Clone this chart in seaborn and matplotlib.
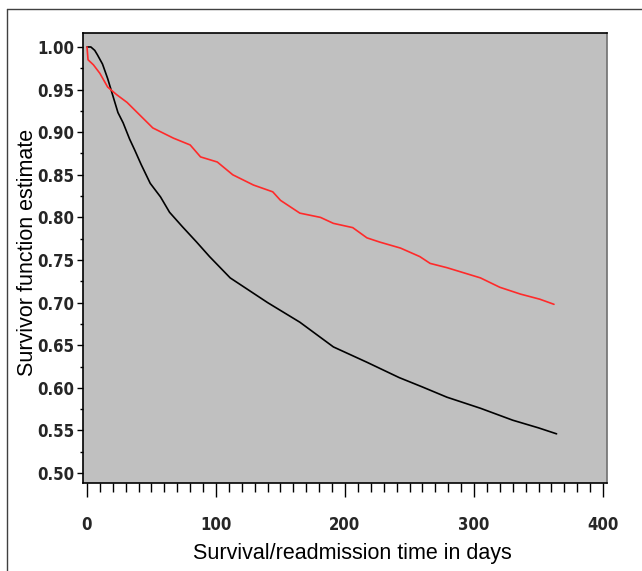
import numpy as np
import pandas as pd
import seaborn as sns
import matplotlib
matplotlib.use('Agg')
import matplotlib.pyplot as plt
from matplotlib.lines import Line2D
from matplotlib.ticker import MultipleLocator

# values
black_days = [0, 3, 6, 8, 12, 16, 20, 24, 28, 33, 37, 42, 49, 57, 64, 74, 85, 95,
              111, 125, 140, 165, 191, 217, 242, 260, 279, 305, 330, 350, 364]
black_surv = [1.000, 1.000, 0.996, 0.991, 0.980, 0.963, 0.943, 0.923, 0.911, 0.892,
              0.879, 0.862, 0.840, 0.824, 0.806, 0.789, 0.771, 0.754, 0.729, 0.715,
              0.700, 0.677, 0.648, 0.630, 0.612, 0.601, 0.589, 0.576, 0.562, 0.553, 0.546]

red_days = [0, 0.8, 5, 10, 16, 23, 31, 41, 51, 67, 80, 88, 101, 113, 129, 144, 150,
            165, 181, 191, 206, 217, 227, 243, 258, 266, 279, 305, 320, 336, 351, 362]
red_surv = [1.000, 0.985, 0.979, 0.969, 0.953, 0.944, 0.935, 0.920, 0.905, 0.893,
            0.885, 0.871, 0.865, 0.850, 0.838, 0.830, 0.820, 0.805, 0.800, 0.793,
            0.788, 0.776, 0.771, 0.764, 0.754, 0.746, 0.741, 0.729, 0.718, 0.710,
            0.704, 0.698]

x_ticks = [0, 100, 200, 300, 400]
y_ticks = [0.50, 0.55, 0.60, 0.65, 0.70, 0.75, 0.80, 0.85, 0.90, 0.95, 1.00]

df = pd.concat([
    pd.DataFrame({'days': black_days, 'surv': black_surv, 'group': 'black'}),
    pd.DataFrame({'days': red_days, 'surv': red_surv, 'group': 'red'}),
])

sns.set_theme(style='white')
plt.rcParams['font.family'] = ['Liberation Sans', 'DejaVu Sans']

fig = plt.figure(figsize=(6.42, 5.71), dpi=100)
ax = fig.add_axes([83/642, 1-483/571, (607-83)/642, (483-33)/571])

sns.lineplot(data=df, x='days', y='surv', hue='group',
             palette={'black': '#000000', 'red': '#ff2a2a'},
             estimator=None, sort=False, lw=1.2, legend=False, ax=ax)

ax.set_facecolor('#c0c0c0')
ax.set_xlim(-3.1, 403.1)
ax.set_ylim(0.4883, 1.0164)

ax.set_xticks(x_ticks)
ax.set_yticks(y_ticks)
ax.xaxis.set_minor_locator(MultipleLocator(10))
ax.yaxis.set_minor_locator(MultipleLocator(0.025))
ax.set_xticklabels([str(t) for t in x_ticks])
ax.set_yticklabels(['%.2f' % t for t in y_ticks])

for lab in ax.get_xticklabels() + ax.get_yticklabels():
    lab.set_fontfamily(['DejaVu Sans'])
    lab.set_fontstretch('condensed')
    lab.set_fontweight('bold')
    lab.set_fontsize(12)

ax.tick_params(axis='x', which='major', direction='out', length=10, width=1,
               color='black', pad=14, bottom=True)
ax.tick_params(axis='x', which='minor', direction='out', length=6.5, width=1,
               color='black', bottom=True)
ax.tick_params(axis='y', which='major', direction='out', length=4, width=1,
               color='black', pad=2, left=True)
ax.tick_params(axis='y', which='minor', direction='out', length=2.2, width=1,
               color='black', left=True)

for side in ['top', 'left', 'bottom']:
    ax.spines[side].set_color('black')
    ax.spines[side].set_linewidth(1.2)
ax.spines['right'].set_color('#707070')
ax.spines['right'].set_linewidth(1.2)

ax.set_xlabel('Survival/readmission time in days', fontsize=15.5, color='black')
ax.set_ylabel('Survivor function estimate', fontsize=15.5, color='black')
ax.xaxis.set_label_coords((352-83)/524, (483-543)/450)
ax.yaxis.set_label_coords((38-83)/524, (483-252)/450)

# outer frame (left and top edges visible in the reference)
fig.add_artist(Line2D([7/642, 7/642], [0, 1-8.5/571], transform=fig.transFigure,
                      color='#404040', lw=1))
fig.add_artist(Line2D([7/642, 1], [1-8.5/571, 1-8.5/571], transform=fig.transFigure,
                      color='#404040', lw=1))

fig.savefig('out.png', dpi=100)
